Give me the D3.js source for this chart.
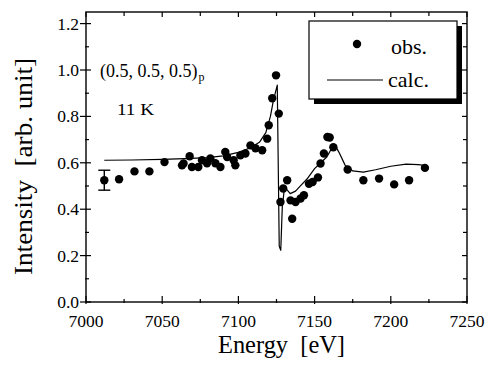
<!DOCTYPE html>
<html><head><meta charset="utf-8">
<script src="https://cdn.jsdelivr.net/npm/d3@7"></script>
<style>html,body{margin:0;padding:0;background:#fff;}svg{display:block;}svg text{fill:#000;}</style>
</head><body><div id="chart"></div>
<script>
// observed data
const obsEnergy = [7012.0,7021.7,7031.8,7041.6,7051.5,7063.0,7064.0,7068.0,7069.5,7073.7,7076.1,7079.4,7081.6,7084.9,7088.2,7091.4,7092.6,7096.9,7098.0,7101.3,7104.6,7107.9,7111.2,7115.6,7118.9,7119.9,7122.2,7124.7,7126.5,7127.6,7129.4,7132.0,7134.2,7135.3,7137.5,7140.8,7143.0,7146.3,7148.7,7152.2,7153.9,7156.1,7158.4,7159.9,7162.3,7171.7,7182.0,7192.3,7202.2,7212.0,7222.4];
const obsIntensity = [0.525,0.529,0.563,0.563,0.603,0.589,0.597,0.628,0.582,0.582,0.611,0.598,0.619,0.598,0.582,0.647,0.625,0.611,0.589,0.632,0.640,0.675,0.663,0.654,0.704,0.762,0.878,0.977,0.812,0.431,0.489,0.525,0.438,0.359,0.431,0.446,0.460,0.510,0.517,0.537,0.597,0.640,0.711,0.709,0.667,0.571,0.525,0.532,0.507,0.525,0.578];
// calculated curve
const calcEnergy = [7012,7030,7050,7065,7080,7090,7100,7108,7114,7118,7121,7123,7125.5,7126.8,7127.8,7128.8,7130.3,7134,7137.5,7141,7145,7150,7154,7158,7161,7163.5,7166,7170,7175,7182,7190,7200,7210,7218,7222];
const calcIntensity = [0.611,0.612,0.615,0.618,0.622,0.630,0.645,0.665,0.690,0.730,0.800,0.870,0.935,0.240,0.223,0.410,0.496,0.467,0.478,0.503,0.530,0.575,0.600,0.625,0.660,0.675,0.645,0.590,0.565,0.560,0.570,0.585,0.594,0.592,0.589];
// error bar on first point
const errPoint = {e:7012.0, i:0.525, err:0.043};
const xMajorTicks = [7000,7050,7100,7150,7200,7250];
const yMajorTicks = [0.0,0.2,0.4,0.6,0.8,1.0,1.2];

const FONT = '"Liberation Serif"';
const W=486,H=374;
const L=86,R=467,T=12,B=302;
const svg=d3.select("#chart").append("svg").attr("width",W).attr("height",H)
  .style("font-family",FONT);
const x=d3.scaleLinear().domain([7000,7250]).range([L,R]);
const y=d3.scaleLinear().domain([0,1.25]).range([B,T]);

const xMinor=d3.range(7000,7251,25);
const yMinor=d3.range(0,1.25,0.1).map(v=>+v.toFixed(2));

function txt(sel){ return sel.style("font-family",FONT).attr("fill","#000"); }

// frame
svg.append("rect").attr("x",L).attr("y",T).attr("width",R-L).attr("height",B-T)
  .attr("fill","none").attr("stroke","#000").attr("stroke-width",1.4);

// bottom axis (scale-driven tick positions)
const gx=svg.append("g").attr("transform",`translate(0,${B})`);
gx.call(d3.axisBottom(x).tickValues(xMinor).tickSize(0).tickFormat(""));
gx.select(".domain").remove();
gx.attr("fill","#000");
gx.selectAll("line.mt").data(xMinor).join("line").attr("class","mt")
  .attr("x1",d=>x(d)).attr("x2",d=>x(d))
  .attr("y1",d=>xMajorTicks.includes(d)?-6:-3).attr("y2",d=>xMajorTicks.includes(d)?2:1)
  .attr("stroke","#000").attr("stroke-width",1.2);
txt(gx.selectAll("text.tl").data(xMajorTicks).join("text").attr("class","tl"))
  .attr("x",d=>x(d)).attr("y",25).attr("text-anchor","middle")
  .style("font-size","17.5px").text(d=>d);
// top ticks
svg.selectAll("line.tt").data(xMinor).join("line").attr("class","tt")
  .attr("x1",d=>x(d)).attr("x2",d=>x(d)).attr("y1",T)
  .attr("y2",d=>T+(xMajorTicks.includes(d)?5:4)).attr("stroke","#000").attr("stroke-width",1.2);

// left axis
const isMajY=d=>yMajorTicks.some(v=>Math.abs(v-d)<1e-6);
const gy=svg.append("g");
gy.selectAll("line.lt").data(yMinor).join("line").attr("class","lt")
  .attr("y1",d=>y(d)).attr("y2",d=>y(d))
  .attr("x1",d=>L-(isMajY(d)?6:1)).attr("x2",d=>L+(isMajY(d)?5:3))
  .attr("stroke","#000").attr("stroke-width",1.2);
txt(gy.selectAll("text.yl").data(yMajorTicks).join("text").attr("class","yl"))
  .attr("x",L-7).attr("y",d=>y(d)+6).attr("text-anchor","end")
  .style("font-size","17.5px").text(d=>d.toFixed(1));
// right ticks
svg.selectAll("line.rt").data(yMinor).join("line").attr("class","rt")
  .attr("y1",d=>y(d)).attr("y2",d=>y(d)).attr("x1",R)
  .attr("x2",d=>R-(isMajY(d)?5:4)).attr("stroke","#000").attr("stroke-width",1.2);

// axis titles
txt(svg.append("text")).attr("x",281.5).attr("y",353).attr("text-anchor","middle")
  .style("font-size","26px").attr("textLength",127).attr("lengthAdjust","spacingAndGlyphs")
  .text("Energy\u00a0\u00a0[eV]");
txt(svg.append("text")).attr("transform","translate(32,166.5) rotate(-90)").attr("text-anchor","middle")
  .style("font-size","26px").attr("textLength",217).attr("lengthAdjust","spacingAndGlyphs")
  .text("Intensity\u00a0\u00a0[arb. unit]");

// annotations
const ann=txt(svg.append("text")).attr("x",100).attr("y",77).style("font-size","18px");
ann.append("tspan").text("(0.5, 0.5, 0.5)");
ann.append("tspan").attr("dy",4).attr("dx",1).style("font-size","12px").text("p");
txt(svg.append("text")).attr("x",117).attr("y",115).style("font-size","17px")
  .attr("textLength",37).attr("lengthAdjust","spacingAndGlyphs").text("11 K");

// calc line
const calc=calcEnergy.map((e,k)=>({e,i:calcIntensity[k]}));
svg.append("path").datum(calc).attr("fill","none").attr("stroke","#000").attr("stroke-width",1.2)
  .attr("stroke-linejoin","round")
  .attr("d",d3.line().x(d=>x(d.e)).y(d=>y(d.i)));

// obs points
const obs=obsEnergy.map((e,k)=>({e,i:obsIntensity[k]}));
svg.selectAll("circle.obs").data(obs).join("circle").attr("class","obs")
  .attr("cx",d=>x(d.e)).attr("cy",d=>y(d.i)).attr("r",4.2).attr("fill","#000");

// error bar
const eb=svg.append("g").attr("stroke","#000").attr("stroke-width",1.4);
eb.append("line").attr("x1",x(errPoint.e)).attr("x2",x(errPoint.e))
  .attr("y1",y(errPoint.i+errPoint.err)).attr("y2",y(errPoint.i-errPoint.err));
[errPoint.i+errPoint.err,errPoint.i-errPoint.err].forEach(v=>{
  eb.append("line").attr("x1",x(errPoint.e)-6).attr("x2",x(errPoint.e)+6).attr("y1",y(v)).attr("y2",y(v));
});

// legend
const lg=svg.append("g");
lg.append("rect").attr("x",314).attr("y",26).attr("width",148).attr("height",78).attr("fill","#000");
lg.append("rect").attr("x",309).attr("y",21).attr("width",148).attr("height",78)
  .attr("fill","#fff").attr("stroke","#000").attr("stroke-width",1.2);
lg.append("circle").attr("cx",357).attr("cy",44).attr("r",4.2).attr("fill","#000");
txt(lg.append("text")).attr("x",391).attr("y",54).style("font-size","22px").text("obs.");
lg.append("line").attr("x1",327).attr("x2",383).attr("y1",80).attr("y2",80).attr("stroke","#000").attr("stroke-width",1.2);
txt(lg.append("text")).attr("x",388).attr("y",87).style("font-size","22px").text("calc.");
</script></body></html>
